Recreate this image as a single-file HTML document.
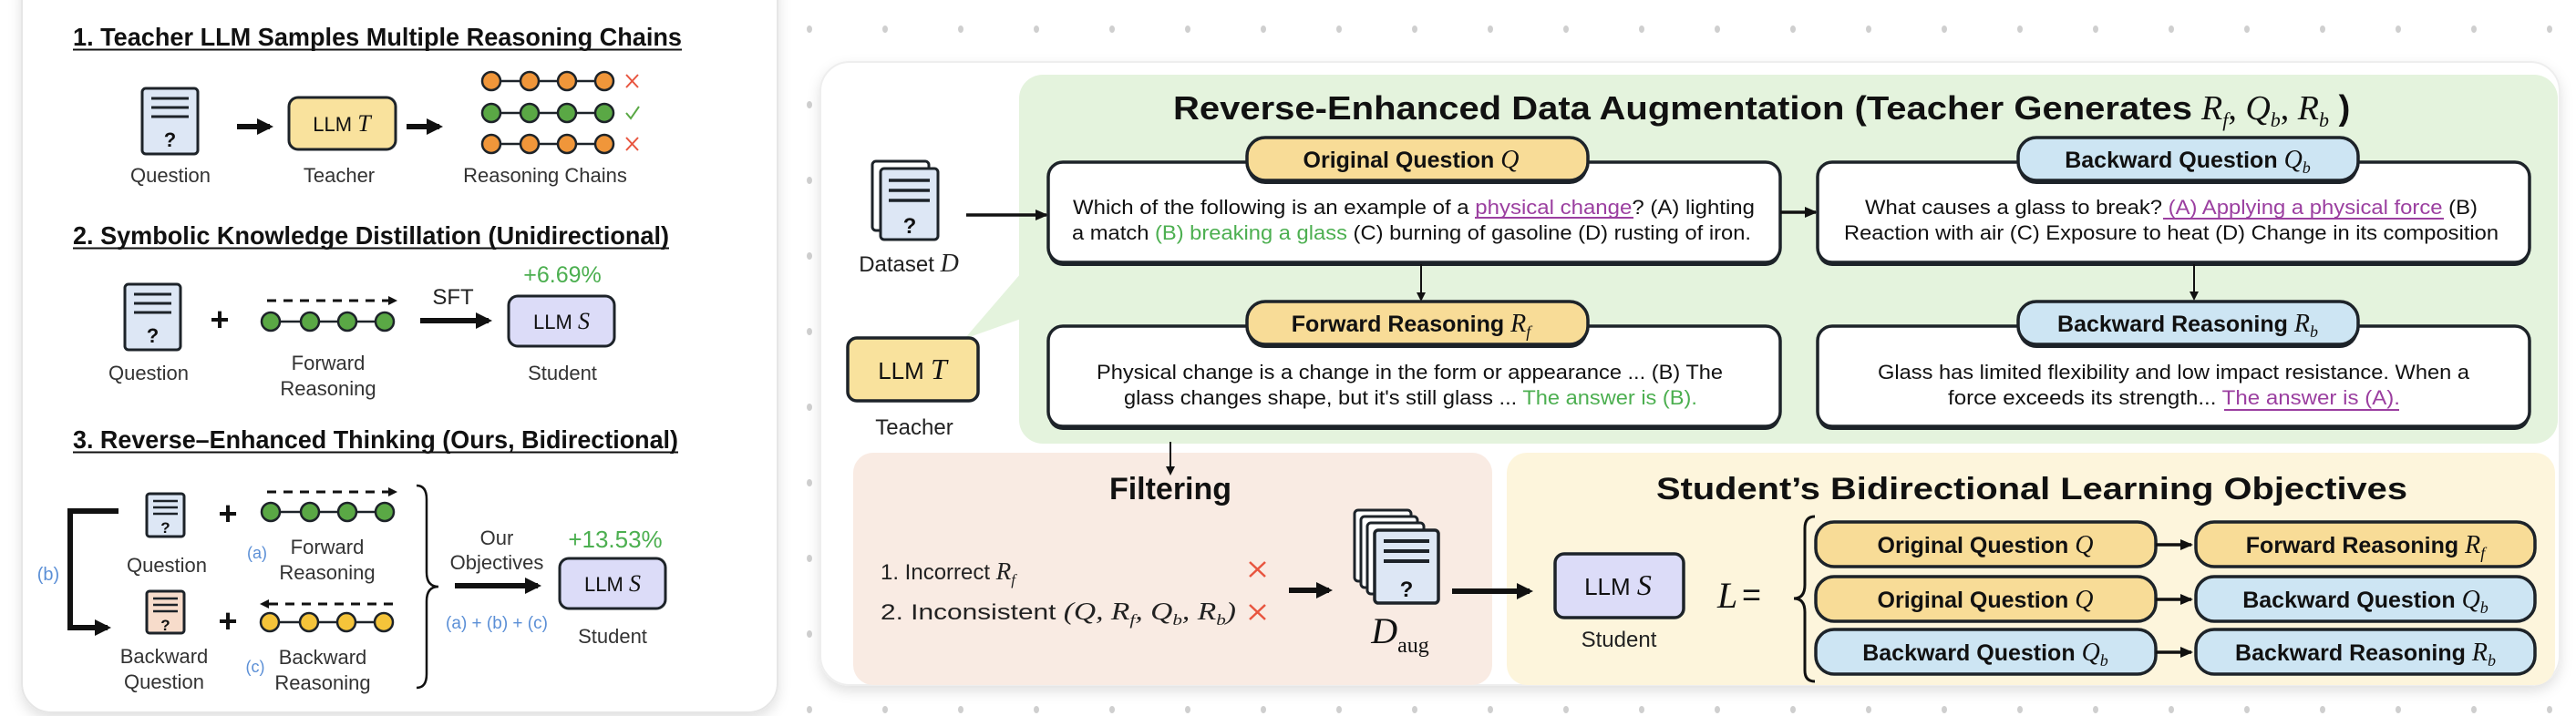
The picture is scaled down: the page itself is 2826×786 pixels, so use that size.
<!DOCTYPE html>
<html><head><meta charset="utf-8"><style>
html,body{margin:0;padding:0;background:#fff;}
svg{display:block;}
text{font-family:"Liberation Sans",Arial,sans-serif;}
.m{font-family:"Liberation Serif",serif;font-style:italic;}
.b{font-weight:bold;}
</style></head><body>
<svg width="2826" height="786" viewBox="0 0 2826 786" xmlns="http://www.w3.org/2000/svg">
<defs>
<pattern id="dots" x="888" y="32" width="83" height="83" patternUnits="userSpaceOnUse">
<ellipse cx="0" cy="0" rx="3" ry="4" fill="#cfcfcf"/><ellipse cx="83" cy="0" rx="3" ry="4" fill="#cfcfcf"/><ellipse cx="0" cy="83" rx="3" ry="4" fill="#cfcfcf"/><ellipse cx="83" cy="83" rx="3" ry="4" fill="#cfcfcf"/>
</pattern>
<filter id="sh" x="-5%" y="-5%" width="110%" height="115%"><feDropShadow dx="0" dy="6" stdDeviation="7" flood-color="#000" flood-opacity="0.12"/></filter>
<marker id="ah" markerWidth="10" markerHeight="10" refX="8" refY="5" orient="auto" markerUnits="userSpaceOnUse"><path d="M0,0 L10,5 L0,10 Z" fill="#111"/></marker>
<marker id="ahb" markerWidth="18" markerHeight="18" refX="14" refY="9" orient="auto" markerUnits="userSpaceOnUse"><path d="M0,0 L18,9 L0,18 Z" fill="#111"/></marker>
<marker id="ahs" markerWidth="14" markerHeight="14" refX="12" refY="7" orient="auto" markerUnits="userSpaceOnUse"><path d="M0,1 L14,7 L0,13 Z" fill="#111"/></marker>
</defs>
<rect x="860" y="0" width="1966" height="786" fill="url(#dots)"/>

<!-- LEFT CARD -->
<rect x="24" y="-40" width="829" height="822" rx="32" fill="#fff" stroke="#e6e6e6" stroke-width="2" filter="url(#sh)"/>

<g fill="#111">
<!-- Section 1 -->
<text x="80" y="50" font-size="28" class="b" fill="#111" textLength="668" lengthAdjust="spacingAndGlyphs">1. Teacher LLM Samples Multiple Reasoning Chains</text>
<line x1="80" y1="54.5" x2="748" y2="54.5" stroke="#111" stroke-width="2"/>
<rect x="156" y="97" width="61" height="72" rx="4" fill="#dde7f5" stroke="#1d2329" stroke-width="3"/>
<line x1="166" y1="108" x2="207" y2="108" stroke="#1d2329" stroke-width="3"/><line x1="166" y1="118" x2="207" y2="118" stroke="#1d2329" stroke-width="3"/><line x1="166" y1="128" x2="207" y2="128" stroke="#1d2329" stroke-width="3"/>
<text x="186.5" y="161" font-size="22" class="b" text-anchor="middle" fill="#111">?</text>
<text x="187" y="200" font-size="22" text-anchor="middle" fill="#333">Question</text>
<line x1="260" y1="139" x2="296" y2="139" stroke="#111" stroke-width="6" marker-end="url(#ahb)"/>
<rect x="317" y="107" width="117" height="57" rx="10" fill="#f9e29d" stroke="#1d2329" stroke-width="3"/>
<text x="375" y="144" font-size="22" text-anchor="middle" fill="#111">LLM <tspan class="m" font-size="26">T</tspan></text>
<text x="372" y="200" font-size="22" text-anchor="middle" fill="#333">Teacher</text>
<line x1="446" y1="139" x2="482" y2="139" stroke="#111" stroke-width="6" marker-end="url(#ahb)"/>
<g stroke="#1d2329" stroke-width="2.5">
<line x1="539" y1="89" x2="663" y2="89"/><line x1="539" y1="124" x2="663" y2="124"/><line x1="539" y1="158" x2="663" y2="158"/>
<g fill="#f0963a"><circle cx="539" cy="89" r="10"/><circle cx="581" cy="89" r="10"/><circle cx="622" cy="89" r="10"/><circle cx="663" cy="89" r="10"/>
<circle cx="539" cy="158" r="10"/><circle cx="581" cy="158" r="10"/><circle cx="622" cy="158" r="10"/><circle cx="663" cy="158" r="10"/></g>
<g fill="#5aa845"><circle cx="539" cy="124" r="10"/><circle cx="581" cy="124" r="10"/><circle cx="622" cy="124" r="10"/><circle cx="663" cy="124" r="10"/></g>
</g>
<g stroke="#e8553f" stroke-width="2"><line x1="687" y1="82" x2="700" y2="96"/><line x1="700" y1="82" x2="687" y2="96"/><line x1="687" y1="151" x2="700" y2="165"/><line x1="700" y1="151" x2="687" y2="165"/></g>
<path d="M687,124 L692,130 L701,117" stroke="#5aa845" stroke-width="2" fill="none"/>
<text x="598" y="200" font-size="22" text-anchor="middle" fill="#333">Reasoning Chains</text>

<!-- Section 2 -->
<text x="80" y="268" font-size="28" class="b" fill="#111" textLength="654" lengthAdjust="spacingAndGlyphs">2. Symbolic Knowledge Distillation (Unidirectional)</text>
<line x1="80" y1="272.5" x2="734" y2="272.5" stroke="#111" stroke-width="2"/>
<rect x="137" y="312" width="61" height="72" rx="4" fill="#dde7f5" stroke="#1d2329" stroke-width="3"/>
<line x1="147" y1="323" x2="188" y2="323" stroke="#1d2329" stroke-width="3"/><line x1="147" y1="333" x2="188" y2="333" stroke="#1d2329" stroke-width="3"/><line x1="147" y1="343" x2="188" y2="343" stroke="#1d2329" stroke-width="3"/>
<text x="167.5" y="376" font-size="22" class="b" text-anchor="middle" fill="#111">?</text>
<text x="163" y="417" font-size="22" text-anchor="middle" fill="#333">Question</text>
<text x="241" y="363" font-size="36" class="b" text-anchor="middle" fill="#111">+</text>
<line x1="293" y1="330" x2="434" y2="330" stroke="#111" stroke-width="3" stroke-dasharray="10 8" marker-end="url(#ah)"/>
<g stroke="#1d2329" stroke-width="2.5"><line x1="297" y1="353" x2="422" y2="353"/>
<g fill="#5aa845"><circle cx="297" cy="353" r="10"/><circle cx="340" cy="353" r="10"/><circle cx="381" cy="353" r="10"/><circle cx="422" cy="353" r="10"/></g></g>
<text x="360" y="406" font-size="22" text-anchor="middle" fill="#333">Forward</text>
<text x="360" y="434" font-size="22" text-anchor="middle" fill="#333">Reasoning</text>
<text x="497" y="334" font-size="24" text-anchor="middle" fill="#222">SFT</text>
<line x1="461" y1="352" x2="536" y2="352" stroke="#111" stroke-width="6" marker-end="url(#ahb)"/>
<rect x="558" y="325" width="116" height="55" rx="10" fill="#dcdcf8" stroke="#1d2329" stroke-width="3"/>
<text x="616" y="361" font-size="22" text-anchor="middle" fill="#111">LLM <tspan class="m" font-size="26">S</tspan></text>
<text x="617" y="310" font-size="25" text-anchor="middle" fill="#4caf50">+6.69%</text>
<text x="617" y="417" font-size="22" text-anchor="middle" fill="#333">Student</text>

<!-- Section 3 -->
<text x="80" y="492" font-size="28" class="b" fill="#111" textLength="664" lengthAdjust="spacingAndGlyphs">3. Reverse–Enhanced Thinking (Ours, Bidirectional)</text>
<line x1="80" y1="496.5" x2="744" y2="496.5" stroke="#111" stroke-width="2"/>
<path d="M130,561 L77,561 L77,689 L118,689" stroke="#111" stroke-width="6" fill="none" marker-end="url(#ahb)"/>
<text x="53" y="637" font-size="20" text-anchor="middle" fill="#5b8fd6">(b)</text>
<rect x="161" y="542" width="41" height="47" rx="3" fill="#dde7f5" stroke="#1d2329" stroke-width="3"/>
<line x1="168" y1="550" x2="195" y2="550" stroke="#1d2329" stroke-width="2.5"/><line x1="168" y1="557" x2="195" y2="557" stroke="#1d2329" stroke-width="2.5"/><line x1="168" y1="564" x2="195" y2="564" stroke="#1d2329" stroke-width="2.5"/>
<text x="181.5" y="585" font-size="17" class="b" text-anchor="middle" fill="#111">?</text>
<text x="183" y="628" font-size="22" text-anchor="middle" fill="#333">Question</text>
<rect x="161" y="649" width="41" height="46" rx="3" fill="#f7dccb" stroke="#1d2329" stroke-width="3"/>
<line x1="168" y1="657" x2="195" y2="657" stroke="#1d2329" stroke-width="2.5"/><line x1="168" y1="664" x2="195" y2="664" stroke="#1d2329" stroke-width="2.5"/><line x1="168" y1="671" x2="195" y2="671" stroke="#1d2329" stroke-width="2.5"/>
<text x="181.5" y="692" font-size="17" class="b" text-anchor="middle" fill="#111">?</text>
<text x="180" y="728" font-size="22" text-anchor="middle" fill="#333">Backward</text>
<text x="180" y="756" font-size="22" text-anchor="middle" fill="#333">Question</text>
<text x="250" y="576" font-size="36" class="b" text-anchor="middle" fill="#111">+</text>
<text x="250" y="694" font-size="36" class="b" text-anchor="middle" fill="#111">+</text>
<line x1="293" y1="540" x2="434" y2="540" stroke="#111" stroke-width="3" stroke-dasharray="10 8" marker-end="url(#ah)"/>
<g stroke="#1d2329" stroke-width="2.5"><line x1="297" y1="562" x2="422" y2="562"/>
<g fill="#5aa845"><circle cx="297" cy="562" r="10"/><circle cx="340" cy="562" r="10"/><circle cx="381" cy="562" r="10"/><circle cx="422" cy="562" r="10"/></g></g>
<text x="282" y="613" font-size="18" text-anchor="middle" fill="#5b8fd6">(a)</text>
<text x="359" y="608" font-size="22" text-anchor="middle" fill="#333">Forward</text>
<text x="359" y="636" font-size="22" text-anchor="middle" fill="#333">Reasoning</text>
<line x1="431" y1="663" x2="287" y2="663" stroke="#111" stroke-width="3" stroke-dasharray="10 8" marker-end="url(#ah)"/>
<g stroke="#1d2329" stroke-width="2.5"><line x1="296" y1="683" x2="421" y2="683"/>
<g fill="#f5c43a"><circle cx="296" cy="683" r="10"/><circle cx="339" cy="683" r="10"/><circle cx="380" cy="683" r="10"/><circle cx="421" cy="683" r="10"/></g></g>
<text x="280" y="738" font-size="18" text-anchor="middle" fill="#5b8fd6">(c)</text>
<text x="354" y="729" font-size="22" text-anchor="middle" fill="#333">Backward</text>
<text x="354" y="757" font-size="22" text-anchor="middle" fill="#333">Reasoning</text>
<path d="M457,533 Q468,533 468,548 L468,628 Q468,644 481,644 Q468,644 468,660 L468,740 Q468,755 457,755" stroke="#111" stroke-width="2.5" fill="none"/>
<text x="545" y="598" font-size="22" text-anchor="middle" fill="#333">Our</text>
<text x="545" y="625" font-size="22" text-anchor="middle" fill="#333">Objectives</text>
<line x1="499" y1="643" x2="590" y2="643" stroke="#111" stroke-width="6" marker-end="url(#ahb)"/>
<text x="545" y="690" font-size="19" text-anchor="middle" fill="#5b8fd6">(a) + (b) + (c)</text>
<text x="675" y="601" font-size="26" text-anchor="middle" fill="#4caf50">+13.53%</text>
<rect x="614" y="613" width="116" height="55" rx="10" fill="#dcdcf8" stroke="#1d2329" stroke-width="3"/>
<text x="672" y="649" font-size="22" text-anchor="middle" fill="#111">LLM <tspan class="m" font-size="26">S</tspan></text>
<text x="672" y="706" font-size="22" text-anchor="middle" fill="#333">Student</text>
</g>

<!-- RIGHT CARD -->
<rect x="900" y="68" width="1908" height="684" rx="32" fill="#fff" stroke="#eeeeee" stroke-width="2" filter="url(#sh)"/>
<rect x="1118" y="82" width="1688" height="405" rx="26" fill="#e4f3dd"/>
<path d="M1120,300 L1058,372 L1120,350 Z" fill="#e4f3dd"/>
<g fill="#111">
<text x="1287" y="131" font-size="36" class="b" textLength="1118" lengthAdjust="spacingAndGlyphs">Reverse-Enhanced Data Augmentation (Teacher Generates</text>
<text x="2415" y="131" font-size="38" class="m">R<tspan font-size="22" dy="8">f</tspan><tspan dy="-8" font-style="normal">, </tspan>Q<tspan font-size="22" dy="8">b</tspan><tspan dy="-8" font-style="normal">, </tspan>R<tspan font-size="22" dy="8">b</tspan><tspan dy="-8" font-style="normal" class="b" font-family="Liberation Sans"> )</tspan></text>

<!-- Dataset -->
<rect x="957" y="177" width="62" height="76" rx="4" fill="#fff" stroke="#1d2329" stroke-width="3"/>
<rect x="966" y="185" width="63" height="78" rx="4" fill="#dde7f5" stroke="#1d2329" stroke-width="3"/>
<line x1="975" y1="198" x2="1020" y2="198" stroke="#1d2329" stroke-width="3.5"/><line x1="975" y1="209" x2="1020" y2="209" stroke="#1d2329" stroke-width="3.5"/><line x1="975" y1="220" x2="1020" y2="220" stroke="#1d2329" stroke-width="3.5"/>
<text x="998" y="256" font-size="24" class="b" text-anchor="middle">?</text>
<text x="997" y="298" font-size="24" text-anchor="middle" fill="#222">Dataset <tspan class="m" font-size="28">D</tspan></text>
<line x1="1060" y1="236" x2="1148" y2="236" stroke="#111" stroke-width="3.5" marker-end="url(#ahs)"/>
<rect x="930" y="371" width="143" height="69" rx="10" fill="#f9e29d" stroke="#1d2329" stroke-width="3.5"/>
<text x="1001" y="416" font-size="26" text-anchor="middle">LLM <tspan class="m" font-size="32">T</tspan></text>
<text x="1003" y="477" font-size="24" text-anchor="middle" fill="#222">Teacher</text>

<!-- Original Q box -->
<rect x="1150" y="180" width="803" height="112" rx="16" fill="#1d2329"/>
<rect x="1150" y="178" width="803" height="110" rx="16" fill="#fff" stroke="#1d2329" stroke-width="3.5"/>
<rect x="1368" y="153" width="374" height="49" rx="20" fill="#1d2329"/>
<rect x="1368" y="151" width="374" height="47" rx="20" fill="#f8dc97" stroke="#1d2329" stroke-width="3.5"/>
<text x="1548" y="184" font-size="25" class="b" text-anchor="middle">Original Question <tspan class="m" font-weight="normal" font-size="28">Q</tspan></text>
<text x="1177" y="235" font-size="22" textLength="748" lengthAdjust="spacingAndGlyphs">Which of the following is an example of a <tspan fill="#9b3fa0">physical change</tspan>? (A) lighting</text>
<line x1="1618" y1="239" x2="1792" y2="239" stroke="#9b3fa0" stroke-width="2"/>
<text x="1176" y="263" font-size="22" textLength="745" lengthAdjust="spacingAndGlyphs">a match <tspan fill="#4caf50">(B) breaking a glass</tspan> (C) burning of gasoline (D) rusting of iron.</text>
<line x1="1953" y1="233" x2="1992" y2="233" stroke="#111" stroke-width="3.5" marker-end="url(#ahs)"/>

<!-- Backward Q box -->
<rect x="1994" y="180" width="781" height="112" rx="16" fill="#1d2329"/>
<rect x="1994" y="178" width="781" height="110" rx="16" fill="#fff" stroke="#1d2329" stroke-width="3.5"/>
<rect x="2214" y="153" width="373" height="49" rx="20" fill="#1d2329"/>
<rect x="2214" y="151" width="373" height="47" rx="20" fill="#cde5f3" stroke="#1d2329" stroke-width="3.5"/>
<text x="2400" y="184" font-size="25" class="b" text-anchor="middle">Backward Question <tspan class="m" font-weight="normal" font-size="28">Q<tspan font-size="18" dy="6">b</tspan></tspan></text>
<text x="2046" y="235" font-size="22" textLength="672" lengthAdjust="spacingAndGlyphs">What causes a glass to break? <tspan fill="#9b3fa0">(A) Applying a physical force</tspan> (B)</text>
<line x1="2373" y1="240" x2="2681" y2="240" stroke="#9b3fa0" stroke-width="2"/>
<text x="2023" y="263" font-size="22" textLength="718" lengthAdjust="spacingAndGlyphs">Reaction with air (C) Exposure to heat (D) Change in its composition</text>
<line x1="1559" y1="290" x2="1559" y2="329" stroke="#111" stroke-width="2" marker-end="url(#ah)"/>
<line x1="2407" y1="290" x2="2407" y2="328" stroke="#111" stroke-width="2" marker-end="url(#ah)"/>

<!-- Forward reasoning -->
<rect x="1150" y="360" width="803" height="112" rx="16" fill="#1d2329"/>
<rect x="1150" y="358" width="803" height="110" rx="16" fill="#fff" stroke="#1d2329" stroke-width="3.5"/>
<rect x="1368" y="333" width="374" height="49" rx="20" fill="#1d2329"/>
<rect x="1368" y="331" width="374" height="47" rx="20" fill="#f8dc97" stroke="#1d2329" stroke-width="3.5"/>
<text x="1548" y="364" font-size="25" class="b" text-anchor="middle">Forward Reasoning <tspan class="m" font-weight="normal" font-size="28">R<tspan font-size="18" dy="6">f</tspan></tspan></text>
<text x="1203" y="416" font-size="22" textLength="687" lengthAdjust="spacingAndGlyphs">Physical change is a change in the form or appearance ... (B) The</text>
<text x="1233" y="444" font-size="22" textLength="629" lengthAdjust="spacingAndGlyphs">glass changes shape, but it's still glass ... <tspan fill="#4caf50">The answer is (B).</tspan></text>

<!-- Backward reasoning -->
<rect x="1994" y="360" width="781" height="112" rx="16" fill="#1d2329"/>
<rect x="1994" y="358" width="781" height="110" rx="16" fill="#fff" stroke="#1d2329" stroke-width="3.5"/>
<rect x="2214" y="333" width="373" height="49" rx="20" fill="#1d2329"/>
<rect x="2214" y="331" width="373" height="47" rx="20" fill="#cde5f3" stroke="#1d2329" stroke-width="3.5"/>
<text x="2400" y="364" font-size="25" class="b" text-anchor="middle">Backward Reasoning <tspan class="m" font-weight="normal" font-size="28">R<tspan font-size="18" dy="6">b</tspan></tspan></text>
<text x="2060" y="416" font-size="22" textLength="649" lengthAdjust="spacingAndGlyphs">Glass has limited flexibility and low impact resistance. When a</text>
<text x="2137" y="444" font-size="22" textLength="496" lengthAdjust="spacingAndGlyphs">force exceeds its strength... <tspan fill="#9b3fa0">The answer is (A).</tspan></text>
<line x1="2440" y1="450" x2="2632" y2="450" stroke="#9b3fa0" stroke-width="2"/>

<!-- Filtering -->
<rect x="936" y="497" width="701" height="255" rx="22" fill="#f9ebe3"/>
<line x1="1284" y1="485" x2="1284" y2="520" stroke="#111" stroke-width="2" marker-end="url(#ah)"/>
<text x="1284" y="548" font-size="34" class="b" text-anchor="middle">Filtering</text>
<text x="966" y="636" font-size="24" fill="#222">1. Incorrect <tspan class="m" font-size="27">R<tspan font-size="17" dy="6">f</tspan></tspan></text>
<text x="966" y="680" font-size="24" fill="#222" textLength="390" lengthAdjust="spacingAndGlyphs">2. Inconsistent <tspan class="m" font-size="27">(Q, R<tspan font-size="17" dy="6">f</tspan><tspan dy="-6">, Q</tspan><tspan font-size="17" dy="6">b</tspan><tspan dy="-6">, R</tspan><tspan font-size="17" dy="6">b</tspan><tspan dy="-6">)</tspan></tspan></text>
<g stroke="#e8553f" stroke-width="2.5"><line x1="1371" y1="617" x2="1388" y2="633"/><line x1="1388" y1="617" x2="1371" y2="633"/><line x1="1371" y1="664" x2="1388" y2="680"/><line x1="1388" y1="664" x2="1371" y2="680"/></g>
<line x1="1414" y1="648" x2="1458" y2="648" stroke="#111" stroke-width="6" marker-end="url(#ahb)"/>
<rect x="1486" y="560" width="62" height="78" rx="4" fill="#fff" stroke="#1d2329" stroke-width="3"/>
<rect x="1493" y="567" width="62" height="78" rx="4" fill="#fff" stroke="#1d2329" stroke-width="3"/>
<rect x="1500" y="574" width="62" height="78" rx="4" fill="#fff" stroke="#1d2329" stroke-width="3"/>
<rect x="1508" y="582" width="70" height="80" rx="4" fill="#dde7f5" stroke="#1d2329" stroke-width="3.5"/>
<line x1="1518" y1="594" x2="1568" y2="594" stroke="#1d2329" stroke-width="4"/><line x1="1518" y1="605" x2="1568" y2="605" stroke="#1d2329" stroke-width="4"/><line x1="1518" y1="616" x2="1568" y2="616" stroke="#1d2329" stroke-width="4"/>
<text x="1543" y="655" font-size="24" class="b" text-anchor="middle">?</text>
<text x="1536" y="706" font-size="40" class="m" text-anchor="middle">D<tspan font-size="24" font-style="normal" dy="10">aug</tspan></text>

<!-- Student objectives -->
<rect x="1653" y="497" width="1150" height="255" rx="22" fill="#fdf5dc"/>
<line x1="1593" y1="649" x2="1678" y2="649" stroke="#111" stroke-width="6" marker-end="url(#ahb)"/>
<text x="2229" y="548" font-size="34" class="b" text-anchor="middle" textLength="824" lengthAdjust="spacingAndGlyphs">Student’s Bidirectional Learning Objectives</text>
<rect x="1706" y="608" width="141" height="70" rx="10" fill="#dcdcf8" stroke="#1d2329" stroke-width="3.5"/>
<text x="1775" y="653" font-size="26" text-anchor="middle">LLM <tspan class="m" font-size="32">S</tspan></text>
<text x="1776" y="710" font-size="24" text-anchor="middle" fill="#222">Student</text>
<text x="1884" y="667" font-size="40" class="m">L</text>
<text x="1911" y="665" font-size="36" font-family="Liberation Serif">=</text>
<path d="M1991,567 Q1980,567 1980,580 L1980,642 Q1980,657 1968,657 Q1980,657 1980,672 L1980,736 Q1980,748 1991,748" stroke="#111" stroke-width="3" fill="none"/>

<g stroke="#1d2329" stroke-width="3.5">
<rect x="1992" y="573" width="373" height="49" rx="20" fill="#f8dc97"/>
<rect x="2409" y="573" width="372" height="49" rx="20" fill="#f8dc97"/>
<rect x="1992" y="633" width="373" height="49" rx="20" fill="#f8dc97"/>
<rect x="2409" y="633" width="372" height="49" rx="20" fill="#cde5f3"/>
<rect x="1992" y="691" width="373" height="49" rx="20" fill="#cde5f3"/>
<rect x="2409" y="691" width="372" height="49" rx="20" fill="#cde5f3"/>
</g>
<line x1="2365" y1="598" x2="2404" y2="598" stroke="#111" stroke-width="3.5" marker-end="url(#ahs)"/>
<line x1="2365" y1="658" x2="2404" y2="658" stroke="#111" stroke-width="3.5" marker-end="url(#ahs)"/>
<line x1="2365" y1="716" x2="2404" y2="716" stroke="#111" stroke-width="3.5" marker-end="url(#ahs)"/>
<g font-size="25">
<text x="2178" y="607" text-anchor="middle" font-weight="bold">Original Question <tspan class="m" font-weight="normal" font-size="28">Q</tspan></text>
<text x="2595" y="607" text-anchor="middle" font-weight="bold">Forward Reasoning <tspan class="m" font-weight="normal" font-size="28">R<tspan font-size="18" dy="6">f</tspan></tspan></text>
<text x="2178" y="667" text-anchor="middle" font-weight="bold">Original Question <tspan class="m" font-weight="normal" font-size="28">Q</tspan></text>
<text x="2595" y="667" text-anchor="middle" font-weight="bold">Backward Question <tspan class="m" font-weight="normal" font-size="28">Q<tspan font-size="18" dy="6">b</tspan></tspan></text>
<text x="2178" y="725" text-anchor="middle" font-weight="bold">Backward Question <tspan class="m" font-weight="normal" font-size="28">Q<tspan font-size="18" dy="6">b</tspan></tspan></text>
<text x="2595" y="725" text-anchor="middle" font-weight="bold">Backward Reasoning <tspan class="m" font-weight="normal" font-size="28">R<tspan font-size="18" dy="6">b</tspan></tspan></text>
</g>
</g>
</svg>
</body></html>
